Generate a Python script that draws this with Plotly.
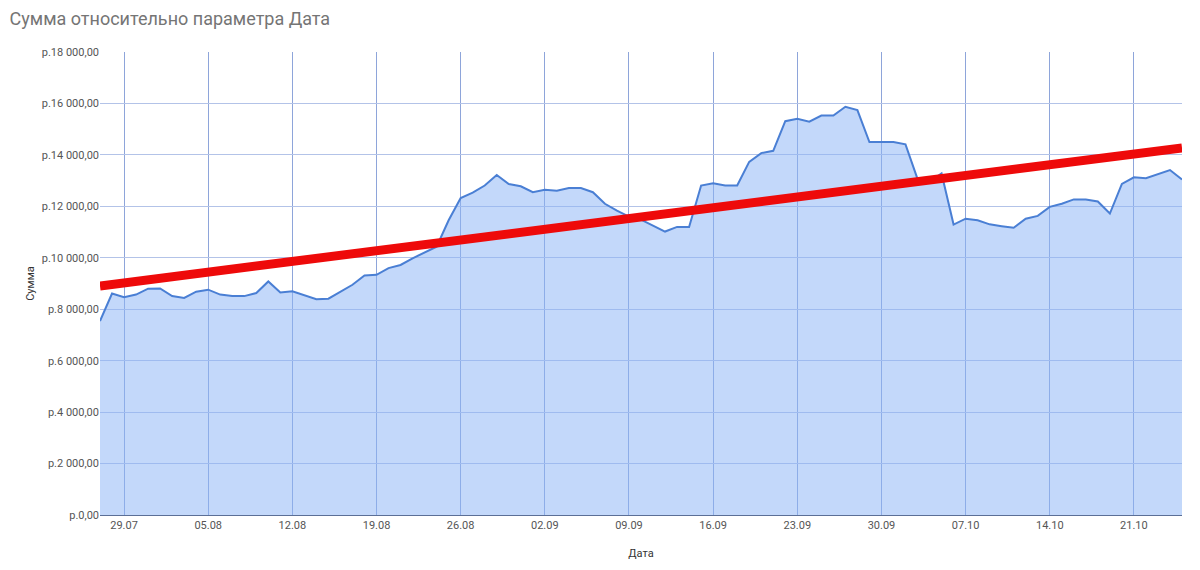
import numpy as np
import pandas as pd
import plotly.graph_objects as go

start_date = "2019-07-27"
values = [
    7540, 8610, 8470, 8570, 8800, 8810, 8510, 8440, 8680, 8760,
    8570, 8510, 8510, 8630, 9080, 8650, 8700, 8540, 8390, 8410,
    8670, 8950, 9310, 9340, 9600, 9720, 9980, 10210, 10430, 11460,
    12320, 12530, 12810, 13220, 12870, 12780, 12550, 12640, 12610, 12710,
    12710, 12550, 12100, 11830, 11600, 11480, 11260, 11020, 11200, 11200,
    12810, 12900, 12810, 12810, 13730, 14070, 14160, 15310, 15400, 15290,
    15530, 15530, 15870, 15740, 14500, 14500, 14500, 14410, 13070, 12950,
    13280, 11290, 11520, 11460, 11300, 11230, 11170, 11520, 11630, 11980,
    12100, 12270, 12270, 12190, 11720, 12870, 13130, 13090, 13260, 13410,
    13040,
]
dates = pd.date_range(start_date, periods=len(values), freq="D")

y_ticks = [0, 2000, 4000, 6000, 8000, 10000, 12000, 14000, 16000, 18000]
y_ticktext = ["р." + (f"{v:,}".replace(",", " ") if v else "0") + ",00" for v in y_ticks]
x_tick_labels = ["29.07", "05.08", "12.08", "19.08", "26.08", "02.09", "09.09",
                 "16.09", "23.09", "30.09", "07.10", "14.10", "21.10"]
x_tick_dates = pd.date_range("2019-07-29", periods=len(x_tick_labels), freq="7D")

# linear trendline (least squares)
t = np.arange(len(values))
k, b = np.polyfit(t, values, 1)
trend = k * t + b

fig = go.Figure()
fig.add_trace(go.Scatter(
    x=dates, y=values, mode="lines", fill="tozeroy",
    line=dict(color="#4a7fd4", width=2),
    fillcolor="rgba(140,180,246,0.52)", showlegend=False,
))
fig.add_trace(go.Scatter(
    x=[dates[0], dates[-1]], y=[trend[0], trend[-1]], mode="lines",
    line=dict(color="#ee0a0a", width=9), showlegend=False,
))

font_family = "Roboto, Arial, sans-serif"
fig.update_layout(
    width=1200, height=570,
    margin=dict(l=100, r=18, t=52, b=51),
    paper_bgcolor="white", plot_bgcolor="white",
    font=dict(family=font_family, size=11, color="#555555"),
    title=dict(text="Сумма относительно параметра Дата", x=0.008, xanchor="left",
               y=0.968, yanchor="middle",
               font=dict(family=font_family, size=18, color="#757575")),
    xaxis=dict(
        range=[dates[0], dates[-1]],
        tickvals=x_tick_dates, ticktext=x_tick_labels,
        showgrid=True, gridcolor="#8ea5da", gridwidth=1,
        showline=True, linecolor="#5b6f96", linewidth=1,
        ticks="", tickfont=dict(size=11, color="#555555"),
        title=dict(text="Дата", font=dict(size=11, color="#333333"), standoff=18),
        zeroline=False,
    ),
    yaxis=dict(
        range=[0, 18000],
        tickvals=y_ticks, ticktext=y_ticktext,
        showgrid=True, gridcolor="#b3c3e8", gridwidth=1,
        ticks="", tickfont=dict(size=11, color="#555555"),
        title=dict(text="Сумма", font=dict(size=11, color="#333333"), standoff=4),
        zeroline=False,
    ),
)

fig.write_html("out.html")
